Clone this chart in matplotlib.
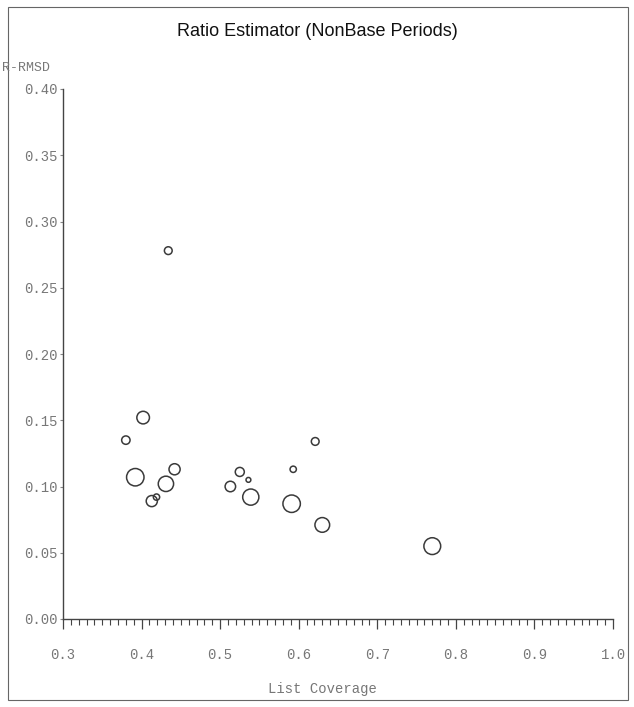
import matplotlib.pyplot as plt
from matplotlib.patches import Rectangle
from matplotlib.ticker import MultipleLocator, FormatStrFormatter

# list coverage vs relative RMSD, one bubble per stratum
coverage = [0.402, 0.380, 0.392, 0.442, 0.431, 0.413, 0.419, 0.525, 0.513,
            0.536, 0.539, 0.621, 0.593, 0.591, 0.630, 0.770, 0.434]
rrmsd = [0.152, 0.135, 0.107, 0.113, 0.102, 0.089, 0.092, 0.111, 0.100,
         0.105, 0.092, 0.134, 0.113, 0.087, 0.071, 0.055, 0.278]
weight = [6.0, 4.0, 8.3, 5.3, 7.3, 5.3, 3.0, 4.3, 5.0,
          2.3, 7.7, 3.7, 3.0, 8.3, 7.0, 8.0, 3.7]

x_ticks = [0.3, 0.4, 0.5, 0.6, 0.7, 0.8, 0.9, 1.0]
y_ticks = [0.00, 0.05, 0.10, 0.15, 0.20, 0.25, 0.30, 0.35, 0.40]

W, H = 634, 707
fig = plt.figure(figsize=(W / 100, H / 100), dpi=100)

# outer frame
fig.patches.append(Rectangle((8 / W, 7 / H), 620 / W, 693 / H, transform=fig.transFigure,
                             fill=False, edgecolor='#666666', linewidth=0.8))

ax = fig.add_axes([63 / W, 88 / H, 550 / W, 530 / H])

# marker diameter in px -> points^2
sizes = [(2 * r * 0.72 * 1.05) ** 2 for r in weight]
ax.scatter(coverage, rrmsd, s=sizes, facecolors='none', edgecolors='#3a3a3a',
           linewidths=1.1, clip_on=False)

ax.set_xlim(0.3, 1.0)
ax.set_ylim(0.0, 0.4)
ax.spines['top'].set_visible(False)
ax.spines['right'].set_visible(False)
for s in ['left', 'bottom']:
    ax.spines[s].set_color('#444444')
    ax.spines[s].set_linewidth(1.0)

ax.set_xticks(x_ticks)
ax.set_yticks(y_ticks)
ax.xaxis.set_minor_locator(MultipleLocator(0.01))
ax.xaxis.set_major_formatter(FormatStrFormatter('%.1f'))
ax.yaxis.set_major_formatter(FormatStrFormatter('%.2f'))
ax.tick_params(axis='x', which='major', direction='out', length=7, width=0.9,
               color='#444444', pad=14, labelsize=10, labelcolor='#777777')
ax.tick_params(axis='x', which='minor', direction='out', length=4, width=0.8,
               color='#444444')
ax.tick_params(axis='y', which='major', direction='out', length=2, width=0.8,
               color='#888888', pad=2, labelsize=10, labelcolor='#777777')
for lab in ax.get_xticklabels() + ax.get_yticklabels():
    lab.set_family('Liberation Mono')

fig.text(317 / W, 1 - 32 / H, 'Ratio Estimator (NonBase Periods)', ha='center', va='center',
         fontsize=13, family='Liberation Sans', color='#111111')
fig.text(2 / W, 1 - 68 / H, 'R-RMSD', ha='left', va='center', fontsize=9.5,
         family='Liberation Mono', color='#777777')
fig.text(322 / W, 1 - 689 / H, 'List Coverage', ha='center', va='center', fontsize=10,
         family='Liberation Mono', color='#777777')

fig.savefig('out.png', dpi=100)
